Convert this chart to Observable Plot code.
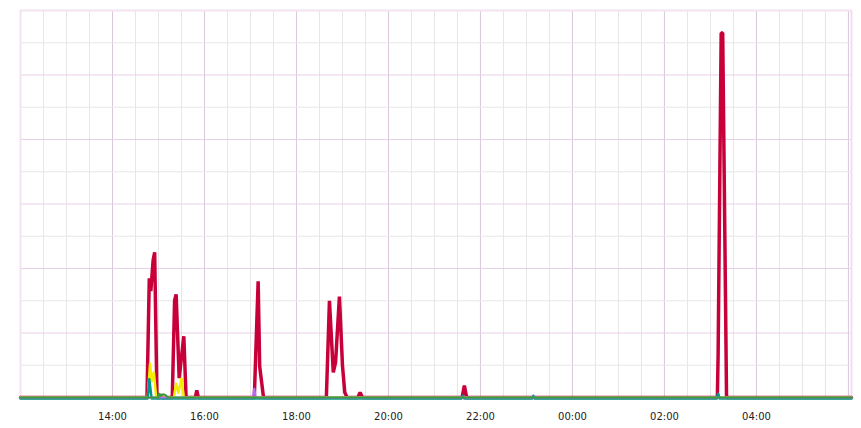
<!DOCTYPE html>
<html>
<head>
<meta charset="utf-8">
<script src="https://cdn.jsdelivr.net/npm/d3@7"></script>
<script src="https://cdn.jsdelivr.net/npm/@observablehq/plot@0.6"></script>
<style>
  html, body { margin: 0; padding: 0; background: #fff; }
  #chart svg { display: block; font-family: "DejaVu Sans", sans-serif; }
</style>
</head>
<body>
<div id="chart"></div>
<script>
// Time span of the chart (HH:MM; hours before 12 belong to the next day)
const startTime = "12:00";
const endTime = "06:04";
const tickLabels = ["14:00", "16:00", "18:00", "20:00", "22:00", "00:00", "02:00", "04:00"];

// Series (times + values)
const redTimes  = ["12:00","14:45","14:48","14:50","14:53","14:55","14:58","15:02","15:03","15:04","15:18","15:21","15:23","15:27","15:33","15:36","15:48","15:50","15:52","17:05","17:10","17:12","17:17","18:39","18:43","18:48","18:51","18:56","19:00","19:03","19:06","19:20","19:23","19:26","21:36","21:39","21:42","03:09","03:10","03:14","03:16","03:21","06:04"];
const redValues = [0,0,37,33,42.5,45,0,0,1,0,0,30,32,6,19,0,0,2.2,0,0,36,9.6,0,0,30,7.8,10.9,31.3,9.9,1.6,0,0,1.6,0,0,3.7,0,0,13,113,113,0,0];

const yellowTimes  = ["12:00","14:46","14:49","14:51","14:54","14:57","15:20","15:23","15:26","15:30","15:33","06:04"];
const yellowValues = [0,0,10.5,5,7.8,0,0,4.3,1.5,5.9,0,0];

const tealTimes  = ["12:00","14:46","14:48","14:51","21:35","21:37","21:39","23:07","23:09","23:11","03:08","03:10","03:12","06:04"];
const tealValues = [0,0,6,0,0,0.8,0,0,0.8,0,0,1.5,0,0];

const purpleTimes  = ["12:00","17:03","17:05","17:07","06:04"];
const purpleValues = [0,0,2.8,0,0];

const greenTimes  = ["12:00","15:00","15:01","15:03","15:06","15:09","15:12","06:04"];
const greenValues = [0,0,1.2,0.5,1,0.8,0,0];

function toDate(hhmm) {
  const [h, m] = hhmm.split(":").map(Number);
  const day = h < 12 ? 2 : 1;
  return new Date(Date.UTC(2024, 0, day, h, m));
}
function series(times, values) {
  return times.map((t, i) => ({time: toDate(t), value: values[i]}));
}
const red = series(redTimes, redValues);
const yellow = series(yellowTimes, yellowValues);
const teal = series(tealTimes, tealValues);
const purple = series(purpleTimes, purpleValues);
const green = series(greenTimes, greenValues);

const x0 = toDate(startTime), x1 = toDate(endTime);
const minorX = d3.utcMinute.every(30).range(x0, x1);
const majorX = d3.utcHour.every(2).range(x0, x1).filter(d => d > x0);
const tickDates = tickLabels.map(toDate);

const chart = Plot.plot({
  width: 861,
  height: 428,
  marginTop: 10,
  marginBottom: 31,
  marginLeft: 20,
  marginRight: 10,
  style: {fontSize: "10px", color: "#222", background: "#fff"},
  x: {type: "utc", domain: [x0, x1]},
  y: {domain: [0, 120], axis: null},
  marks: [
    Plot.gridX(minorX, {stroke: "#e7e5e7", strokeOpacity: 1, strokeWidth: 1}),
    Plot.gridX(majorX, {stroke: "#dac8da", strokeOpacity: 1, strokeWidth: 1}),
    Plot.gridY([10, 30, 50, 70, 90, 110], {stroke: "#e9e7e9", strokeOpacity: 1}),
    Plot.gridY([20, 40, 60, 80, 100], {stroke: "#e6d0e6", strokeOpacity: 1}),
    Plot.ruleY([120], {stroke: "#f1e3f1", strokeWidth: 2}),
    Plot.ruleX([x0], {stroke: "#f1e3f1", strokeWidth: 2}),
    Plot.ruleX([x1], {stroke: "#efe0ef", strokeWidth: 2}),
    Plot.axisX(tickDates, {tickSize: 0, tickPadding: 15, tickFormat: d3.utcFormat("%H:%M"), fill: "#222"}),
    Plot.line(red, {x: "time", y: "value", stroke: "#c8003a", strokeWidth: 3.5, strokeLinejoin: "miter"}),
    Plot.line(yellow, {x: "time", y: "value", stroke: "#f2ee00", strokeWidth: 2.5}),
    Plot.line(teal, {x: "time", y: "value", stroke: "#00968f", strokeWidth: 2.5, dy: 1}),
    Plot.line(purple, {x: "time", y: "value", stroke: "#b36cf0", strokeWidth: 2}),
    Plot.line(green, {x: "time", y: "value", stroke: "#3a9d3a", strokeWidth: 2})
  ]
});
document.getElementById("chart").appendChild(chart);
</script>
</body>
</html>
